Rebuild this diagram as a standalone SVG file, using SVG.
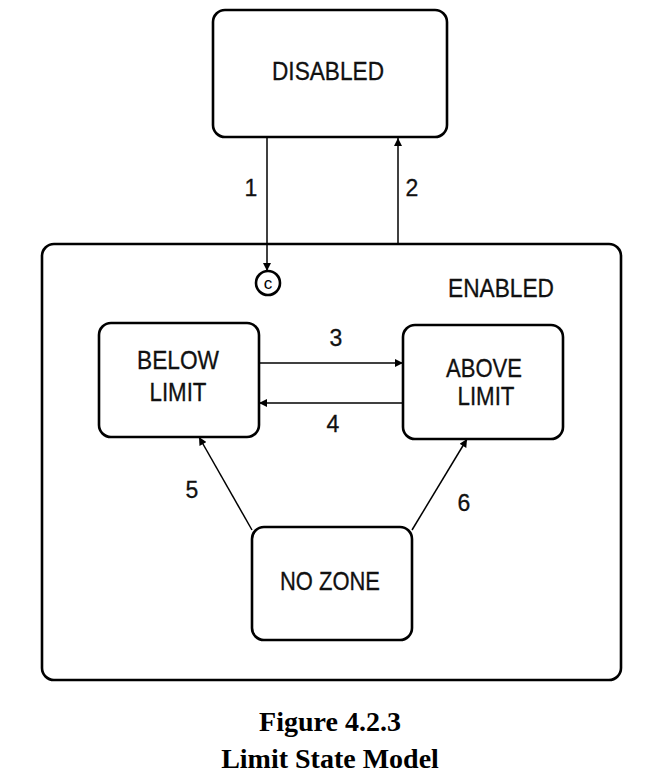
<svg xmlns="http://www.w3.org/2000/svg" width="658" height="784" viewBox="0 0 658 784">
<style>
.box{fill:#fff;stroke:#000;stroke-width:2.6}
.lbl{font-family:"Liberation Sans",Arial,sans-serif;font-size:25px;fill:#111;stroke:#111;stroke-width:0.3;text-anchor:middle}
.num{font-family:"Liberation Sans",Arial,sans-serif;font-size:23px;fill:#111;stroke:#111;stroke-width:0.3;text-anchor:middle}
.cap{font-family:"Liberation Serif","Times New Roman",serif;font-size:28px;font-weight:bold;fill:#000;text-anchor:middle}
.ln{fill:none;stroke:#000;stroke-width:1.5}
</style>
<defs>
<marker id="ah" viewBox="0 0 10 10" refX="10" refY="5" markerWidth="9" markerHeight="8" markerUnits="userSpaceOnUse" orient="auto">
<path d="M0,0 L10,5 L0,10 z" fill="#000"/>
</marker>
</defs>
<rect width="658" height="784" fill="#fff"/>
<g id="enabled">
<rect class="box" x="42" y="244" width="579" height="436" rx="12"/>
<text class="lbl" x="501" y="297" textLength="106" lengthAdjust="spacingAndGlyphs">ENABLED</text>
</g>
<g id="disabled">
<rect class="box" x="213" y="10" width="234" height="127" rx="12"/>
<text class="lbl" x="328" y="80" textLength="112" lengthAdjust="spacingAndGlyphs">DISABLED</text>
</g>
<g id="initial">
<circle cx="268" cy="283" r="12" fill="#fff" stroke="#000" stroke-width="2.6"/>
<text x="268" y="289" font-family="Liberation Sans,Arial,sans-serif" font-size="17" text-anchor="middle" fill="#000">c</text>
</g>
<g id="below">
<rect class="box" x="99" y="323" width="160" height="114" rx="12"/>
<text class="lbl" x="178" y="369" textLength="82" lengthAdjust="spacingAndGlyphs">BELOW</text>
<text class="lbl" x="178" y="401" textLength="57" lengthAdjust="spacingAndGlyphs">LIMIT</text>
</g>
<g id="above">
<rect class="box" x="403" y="325" width="160" height="114" rx="12"/>
<text class="lbl" x="484" y="377" textLength="76" lengthAdjust="spacingAndGlyphs">ABOVE</text>
<text class="lbl" x="486" y="405" textLength="57" lengthAdjust="spacingAndGlyphs">LIMIT</text>
</g>
<g id="nozone">
<rect class="box" x="252" y="527" width="160" height="113" rx="12"/>
<text class="lbl" x="330" y="590" textLength="100" lengthAdjust="spacingAndGlyphs">NO ZONE</text>
</g>
<g id="connectors">
<line class="ln" x1="267" y1="137" x2="267" y2="271" marker-end="url(#ah)"/>
<line class="ln" x1="398" y1="244" x2="398" y2="138" marker-end="url(#ah)"/>
<line class="ln" x1="259" y1="363" x2="403" y2="363" marker-end="url(#ah)"/>
<line class="ln" x1="403" y1="403" x2="259" y2="403" marker-end="url(#ah)"/>
<line class="ln" x1="252" y1="530" x2="199" y2="437" marker-end="url(#ah)"/>
<line class="ln" x1="412" y1="530" x2="467" y2="439" marker-end="url(#ah)"/>
<text class="num" x="251" y="196">1</text>
<text class="num" x="412" y="196">2</text>
<text class="num" x="336" y="346">3</text>
<text class="num" x="333" y="432">4</text>
<text class="num" x="192" y="498">5</text>
<text class="num" x="464" y="511">6</text>
</g>
<g id="caption">
<text class="cap" x="330" y="731">Figure 4.2.3</text>
<text class="cap" x="330" y="768">Limit State Model</text>
</g>
</svg>
